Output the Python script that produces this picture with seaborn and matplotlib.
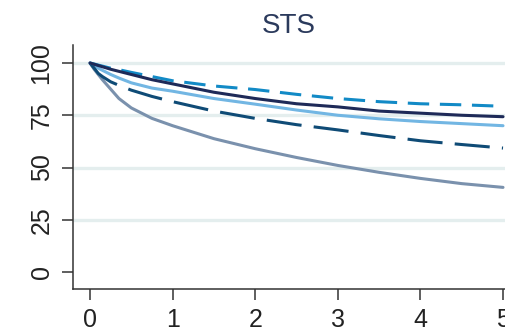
import matplotlib
matplotlib.use("Agg")
import matplotlib.pyplot as plt
import seaborn as sns
import pandas as pd

# Follow-up time (years) and survival (%) per group
years = [0, 0.05, 0.1, 0.15, 0.25, 0.35, 0.5, 0.75, 1, 1.5, 2, 2.5, 3, 3.5, 4, 4.5, 5]
surv_grey = [100, 97, 94.5, 92, 87.5, 83, 78.5, 73.5, 70, 63.8, 59, 54.8, 51, 47.7, 44.8, 42.3, 40.5]
surv_light = [100, 98.8, 97.5, 96.5, 94.5, 92.8, 90.5, 88, 86.5, 83, 80.3, 77.5, 75, 73.3, 72, 71, 70]
surv_dark_dash = [100, 97.5, 95, 93.5, 91, 89.3, 87, 84, 81.5, 77, 73.5, 70.5, 68, 65.3, 62.8, 61, 59.3]
surv_blue_dash = [100, 99.5, 99, 98.5, 97.5, 96.8, 95.5, 93.5, 91.5, 89, 87.3, 85, 83, 81.5, 80.5, 80, 79.3]
surv_navy = [100, 99.4, 98.8, 98.2, 97, 96, 94.5, 92, 90, 86, 83, 80.5, 79, 77, 76, 75, 74.3]

groups = ["g1", "g2", "g3", "g4", "g5"]
series = [surv_grey, surv_light, surv_dark_dash, surv_blue_dash, surv_navy]
colors = ["#7a91ad", "#72b6e3", "#0f4b76", "#128ac6", "#1e2a58"]
dash_styles = ["", "", (11.5, 4), (7, 3.5), ""]

y_ticks = [0, 25, 50, 75, 100]
x_ticks = [0, 1, 2, 3, 4, 5]
grid_levels = [25, 50, 75, 100]

df = pd.DataFrame({
    "years": years * len(groups),
    "survival": [v for s in series for v in s],
    "group": [g for g in groups for _ in years],
})

sns.set_theme(style="white")
plt.rcParams["font.family"] = ["Liberation Sans", "DejaVu Sans"]

fig = plt.figure(figsize=(5.05, 3.31), dpi=100)
ax = fig.add_axes([73 / 505, 42 / 331, 432 / 505, 244 / 331])

for lvl in grid_levels:
    ax.axhline(lvl, color="#e4eeee", lw=2.4, zorder=0)

sns.lineplot(
    data=df, x="years", y="survival", hue="group", style="group",
    hue_order=groups, style_order=groups,
    palette=dict(zip(groups, colors)),
    dashes=dict(zip(groups, dash_styles)),
    linewidth=2.2, legend=False, ax=ax, zorder=3,
)

ax.set_xlim(-0.206, 5.024)
ax.set_ylim(-8.1, 108.6)
ax.set_xticks(x_ticks)
ax.set_yticks(y_ticks)
ax.set_xticklabels([str(t) for t in x_ticks])
ax.set_yticklabels([str(t) for t in y_ticks], rotation=90, va="center")
ax.set_xlabel("")
ax.set_ylabel("")

for side in ["top", "right"]:
    ax.spines[side].set_visible(False)
for side in ["left", "bottom"]:
    ax.spines[side].set_color("#333333")
    ax.spines[side].set_linewidth(1.1)

ax.tick_params(axis="both", which="major", direction="out", length=8,
               width=1.1, color="#333333", labelsize=18, labelcolor="#222222",
               left=True, bottom=True)
ax.tick_params(axis="x", pad=6)
ax.tick_params(axis="y", pad=6)

ax.set_title("STS", fontsize=20, color="#2b3a5c", pad=9)

fig.savefig("out.png", dpi=100)
